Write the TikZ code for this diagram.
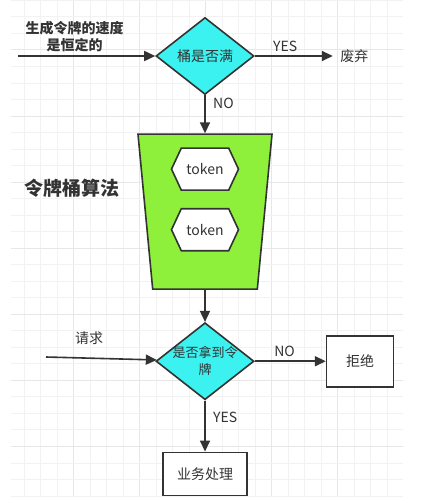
\documentclass[tikz,border=0pt]{standalone}
\usepackage{fontspec}
\setmainfont{Noto Sans CJK SC}
\usetikzlibrary{shapes.geometric, shapes.symbols, arrows.meta, positioning}
\definecolor{mcyan}{HTML}{3CF2F0}
\definecolor{mlime}{HTML}{8EF03A}
\definecolor{mline}{HTML}{333333}
\definecolor{mgrid}{HTML}{F2F2F2}
\definecolor{mgridmaj}{HTML}{E7E7E7}
\tikzset{trapezium stretches=true}
\tikzstyle{decision} = [diamond, aspect=1.27, minimum width=98pt, minimum height=77pt, inner sep=0pt, draw=mline, line width=1.6pt, fill=mcyan, text=mline, font=\fontsize{14}{17}\selectfont]
\tikzstyle{bucket} = [trapezium, trapezium left angle=98, trapezium right angle=98, minimum width=134pt, minimum height=155pt, draw=mline, line width=1.6pt, fill=mlime]
\tikzstyle{tokenhex} = [signal, signal to=east and west, signal pointer angle=130, minimum width=67pt, minimum height=42pt, draw=mline, line width=1.6pt, fill=white, text=mline, font=\fontsize{14}{17}\selectfont]
\tikzstyle{outbox} = [rectangle, draw=mline, line width=1.6pt, fill=white, text=mline, font=\fontsize{14}{17}\selectfont]
\tikzstyle{tag} = [text=mline, align=center, font=\fontsize{14}{17}\selectfont]
\tikzstyle{flow} = [line width=1.6pt, draw=mline, ->, >={Triangle[length=11pt, width=10pt]}]

\begin{document}
\begin{tikzpicture}[x=1pt, y=1pt]
  \useasboundingbox [fill=white] (0,0) rectangle (438,-503);
  % background grid
  \foreach \k in {0,...,22} {
    \pgfmathtruncatemacro\maj{mod(\k,4)==3}
    \ifnum\maj=1 \def\gc{mgridmaj}\else\def\gc{mgrid}\fi
    \draw [\gc, line width=1pt] ({24+16.52*\k},0) -- ({24+16.52*\k},-497);
  }
  \foreach \k in {0,...,30} {
    \pgfmathtruncatemacro\maj{mod(\k,4)==3}
    \ifnum\maj=1 \def\gc{mgridmaj}\else\def\gc{mgrid}\fi
    \draw [\gc, line width=1pt] (11,{-0.44-16.52*\k}) -- (403,{-0.44-16.52*\k});
  }
  \node (full) [decision] at (205,-56) {桶是否满};
  \coordinate (genin) at (18,-56);
  \node (genlbl) [tag, font=\fontsize{14}{17}\selectfont\bfseries] at (74.5,-36.5) {生成令牌的速度\\是恒定的};
  \node (drop) [tag, right=82pt of full] {废弃};
  \draw [flow] (genin) -- (full);
  \draw [flow, shorten >=4pt] (full) -- node[tag, anchor=south, pos=0.37] {YES} (drop);
  \node (bucket) [bucket, below=38pt of full] {};
  \node (tok1) [tokenhex, below=14pt of bucket.north] {token};
  \node (tok2) [tokenhex, below=17pt of tok1] {token};
  \node (title) [tag, font=\fontsize{19}{22}\selectfont\bfseries] at (72,-188) {令牌桶算法};
  \draw [flow] (full) -- node[tag, anchor=west, pos=0.2, xshift=4pt] {NO} (bucket);
  \node (got) [decision, below=32pt of bucket, label={[tag, font=\fontsize{13}{17}\selectfont]center:{是否拿到令\\牌}}] {};
  \coordinate (reqin) at (46,-357);
  \node (reqlbl) [tag] at (89,-338) {请求};
  \node (reject) [outbox, right=71pt of got, minimum width=67pt, minimum height=51pt] {拒绝};
  \node (biz) [outbox, below=51pt of got, minimum width=84pt, minimum height=43pt] {业务处理};
  \draw [flow] (bucket) -- (got);
  \draw [flow] (reqin) -- (got);
  \draw [flow] (got) -- node[tag, anchor=south, pos=0.42] {NO} (reject);
  \draw [flow] (got) -- node[tag, anchor=west, pos=0.33, xshift=4pt] {YES} (biz);
\end{tikzpicture}
\end{document}
